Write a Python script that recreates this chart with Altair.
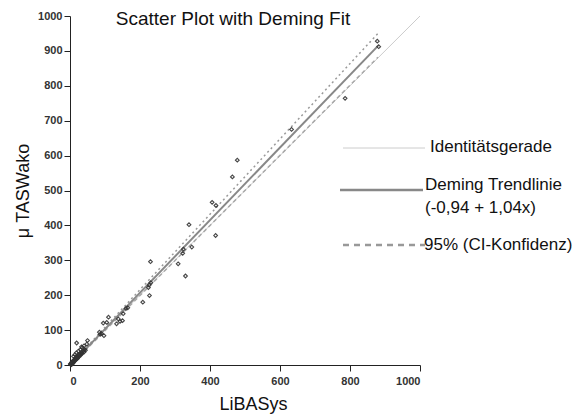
import altair as alt
import pandas as pd

# ---- data ----
lib_x = [878, 882, 786, 633, 478, 464, 406, 417, 340, 416, 348, 324, 322, 309, 330,
         230, 231, 226, 224, 227, 208, 165, 160, 152, 150, 143, 138, 133, 110, 105,
         95, 90, 86, 97, 84, 50, 48, 19, 33, 40,
         2, 3, 5, 5, 7, 8, 10, 10, 12, 13, 15, 15, 17, 18, 20, 20, 22, 25, 25, 28,
         30, 32, 35, 38, 40, 42, 14, 10, 18, 24, 30, 35, 4, 6, 9, 12,
         1, 3, 6, 8, 11, 16, 21, 27, 33, 44]
tas_y = [928, 912, 764, 675, 587, 539, 466, 457, 402, 371, 338, 332, 320, 290, 255,
         296, 236, 229, 222, 199, 180, 164, 162, 147, 127, 125, 132, 118, 137, 122,
         120, 90, 88, 84, 94, 70, 60, 63, 52, 55,
         2, 4, 3, 7, 6, 9, 8, 12, 11, 15, 13, 18, 16, 20, 19, 24, 21, 23, 28, 27,
         32, 30, 34, 40, 37, 45, 30, 25, 35, 40, 44, 50, 1, 5, 7, 10,
         3, 1, 9, 4, 14, 20, 18, 31, 37, 42]

identity_x = [0, 1000]
identity_y = [0, 1000]
deming_x = [0, 880]
deming_y = [-0.94, 914.3]
ci_x = [0, 880]
ci_upper_y = [0, 950]
ci_lower_y = [-2, 882]

x_ticks = [0, 200, 400, 600, 800, 1000]
y_ticks = [0, 100, 200, 300, 400, 500, 600, 700, 800, 900, 1000]

title_text = "Scatter Plot with Deming Fit"
x_title = "LiBASys"
y_title = "\u03bc TASWako"
leg_identity = "Identitätsgerade"
leg_deming = ["Deming Trendlinie", "(-0,94 + 1,04x)"]
leg_ci = "95% (CI-Konfidenz)"

FONT = "Liberation Sans"

pts = pd.DataFrame({"x": lib_x, "y": tas_y})
ident = pd.DataFrame({"x": identity_x, "y": identity_y})
dem = pd.DataFrame({"x": deming_x, "y": deming_y})
ciu = pd.DataFrame({"x": ci_x, "y": ci_upper_y})
cil = pd.DataFrame({"x": ci_x, "y": ci_lower_y})
one = pd.DataFrame({"k": [0]})

xs = alt.Scale(domain=[0, 1000], nice=False)
ys = alt.Scale(domain=[0, 1000], nice=False)

X = alt.X("x:Q", scale=xs, axis=alt.Axis(values=x_ticks, format="d", title=x_title, titleX=183,
                                         titlePadding=9, labelPadding=4))
Y = alt.Y("y:Q", scale=ys, axis=alt.Axis(values=y_ticks, format="d", title=y_title, labelPadding=2,
                                         titlePadding=5))

identity_line = alt.Chart(ident).mark_line(color="#cccccc", strokeWidth=1, clip=False).encode(x=X, y=Y)
ci_up = alt.Chart(ciu).mark_line(color="#9a9a9a", strokeWidth=1.5, strokeDash=[2, 3]).encode(x=X, y=Y)
ci_lo = alt.Chart(cil).mark_line(color="#a8a8a8", strokeWidth=1.5, strokeDash=[4, 3]).encode(x=X, y=Y)
deming_line = alt.Chart(dem).mark_line(color="#888888", strokeWidth=2).encode(x=X, y=Y)
points = alt.Chart(pts).mark_point(shape="diamond", filled=False, size=14, strokeWidth=1.1,
                                   color="#333333", opacity=0.9).encode(x=X, y=Y)

title = alt.Chart(one).mark_text(font=FONT, fontSize=19, color="#111111", align="center",
                                 baseline="alphabetic").encode(
    x=alt.value(163), y=alt.value(9), text=alt.value(title_text))

leg1_line = alt.Chart(one).mark_rule(color="#cccccc", strokeWidth=1).encode(
    x=alt.value(273), x2=alt.value(355), y=alt.value(132))
leg2_line = alt.Chart(one).mark_rule(color="#888888", strokeWidth=2.5).encode(
    x=alt.value(270), x2=alt.value(353), y=alt.value(174))
leg3_line = alt.Chart(one).mark_rule(color="#999999", strokeWidth=2.5, strokeDash=[6, 5]).encode(
    x=alt.value(273), x2=alt.value(355), y=alt.value(229))

leg1_text = alt.Chart(one).mark_text(font=FONT, fontSize=17, color="#111111", align="left",
                                     baseline="middle").encode(
    x=alt.value(360), y=alt.value(131), text=alt.value(leg_identity))
leg2_text = alt.Chart(one).mark_text(font=FONT, fontSize=17, color="#111111", align="left",
                                     baseline="middle", lineHeight=23).encode(
    x=alt.value(355), y=alt.value(169), text=alt.value(leg_deming))
leg3_text = alt.Chart(one).mark_text(font=FONT, fontSize=17, color="#111111", align="left",
                                     baseline="middle").encode(
    x=alt.value(354), y=alt.value(229), text=alt.value(leg_ci))

chart = alt.layer(
    identity_line, ci_up, ci_lo, deming_line, points, title,
    leg1_line, leg2_line, leg3_line, leg1_text, leg2_text, leg3_text
).properties(
    width=350, height=349,
    autosize=alt.AutoSizeParams(type="none"),
    padding={"left": 62, "top": 8, "right": 154, "bottom": 52},
).configure_view(stroke=None).configure_axis(
    grid=False, domainColor="#222222", tickColor="#222222", tickSize=6,
    labelFont=FONT, labelFontSize=11, labelFontWeight="bold", labelColor="#333333",
    titleFont=FONT, titleFontSize=18, titleFontWeight="normal", titleColor="#111111",
)

chart.save("out.html", embed_options={"renderer": "svg", "actions": False})
